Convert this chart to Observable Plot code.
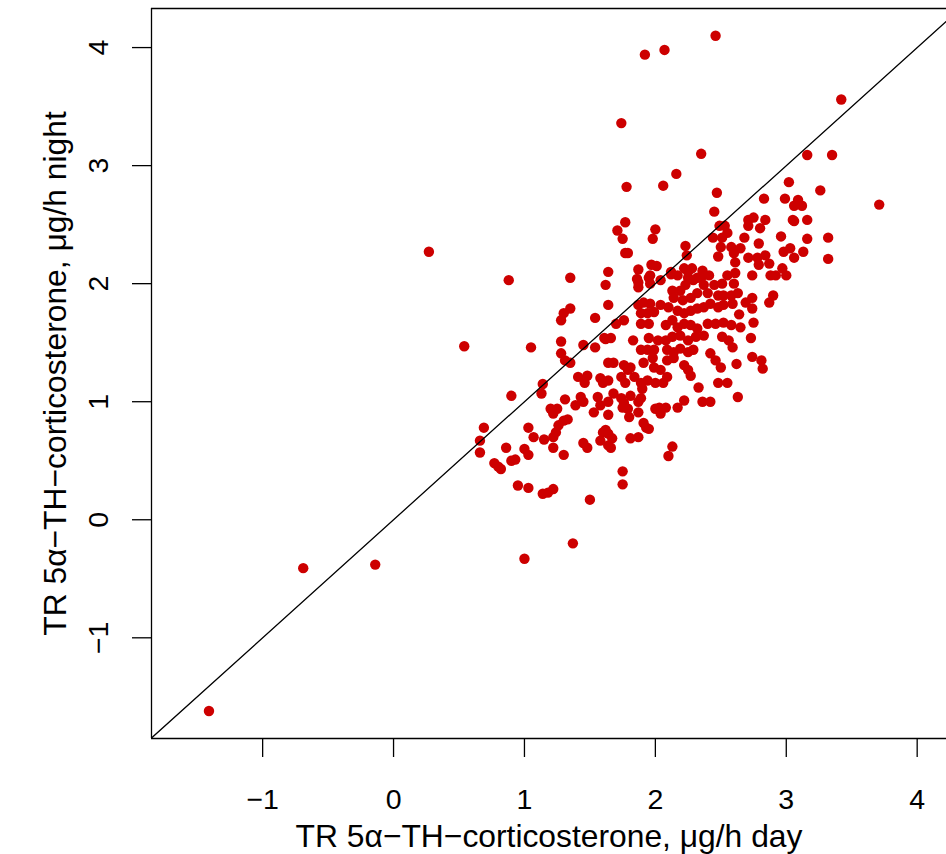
<!DOCTYPE html>
<html><head><meta charset="utf-8">
<script src="https://cdn.jsdelivr.net/npm/d3@7"></script>
<script src="https://cdn.jsdelivr.net/npm/@observablehq/plot@0.6"></script>
<style>body{margin:0;background:#fff} svg{display:block}</style>
</head><body><div id="chart"></div>
<script>
// TR 5α-TH-corticosterone, µg/h — day (x) vs night (y)
const dayValues = [
-1.41,-0.69,-0.14,0.27,0.54,0.88,1.00,1.37,1.50,1.92,2.07,2.46,1.74,3.42,3.71,2.35,3.16,3.35,2.16,1.78,
2.06,3.02,3.26,2.47,2.45,2.83,2.99,3.09,3.06,3.12,1.77,1.71,2.00,1.98,1.75,1.77,1.79,2.23,2.24,2.44,
2.71,2.75,2.71,2.84,3.05,3.06,3.16,2.80,2.49,2.53,2.96,2.68,3.16,3.32,2.51,2.55,2.79,2.50,2.58,2.65,
2.98,3.03,3.13,3.06,2.48,2.60,2.71,2.78,2.84,2.87,3.32,2.61,2.79,2.97,2.36,2.41,2.55,2.61,2.74,2.88,
2.92,3.00,1.64,1.35,1.87,1.97,2.01,2.12,1.96,2.22,2.28,1.86,2.25,2.32,1.62,1.35,1.30,1.28,1.54,1.64,
1.05,1.28,1.28,1.31,1.35,1.45,1.54,1.62,1.64,1.41,1.48,1.46,1.58,1.60,1.64,1.14,1.13,0.90,1.31,1.43,
1.45,1.39,1.56,1.58,1.20,1.25,1.64,1.87,1.87,1.95,1.96,2.04,2.12,2.17,2.25,2.29,2.23,2.19,2.35,2.37,
2.45,2.51,2.60,2.13,2.14,2.21,2.27,2.32,2.40,2.48,2.52,2.58,2.63,1.87,1.91,1.96,2.04,2.10,1.89,1.94,
1.99,2.17,2.22,2.27,2.32,2.37,2.42,2.48,2.52,1.70,1.76,1.89,1.95,2.08,2.13,2.17,2.22,2.27,2.32,2.40,
2.46,2.52,2.58,1.61,1.66,1.83,1.95,2.02,2.08,2.13,2.19,2.25,2.31,2.37,2.51,2.56,2.59,1.89,1.94,1.99,
2.09,2.14,2.19,2.25,2.29,2.42,2.46,2.50,1.68,1.76,1.81,1.79,1.91,1.98,1.99,2.04,2.09,2.14,2.22,2.25,
2.27,1.74,1.77,1.84,1.89,1.90,1.94,2.00,2.06,2.09,2.33,2.48,2.55,1.68,1.74,1.76,1.81,1.89,2.03,2.08,
2.22,2.36,2.42,2.63,2.59,2.69,2.74,2.74,2.90,2.87,2.64,2.65,2.75,2.73,2.62,2.74,2.81,2.82,0.69,0.66,
0.66,0.86,0.77,0.80,0.82,0.90,0.93,1.00,1.03,1.03,1.07,1.15,1.22,1.22,1.24,1.26,1.30,1.33,1.22,1.30,
1.45,1.48,1.53,1.64,1.60,1.62,1.64,1.58,1.64,0.95,1.03,1.14,1.18,1.22,1.75,1.79,1.80,1.87,1.87,2.00,
2.04,2.17,1.67,1.66,1.81,1.87,1.91,1.93,1.95,2.13,2.10,1.75,1.75
];
const nightValues = [
-1.62,-0.41,-0.38,2.27,1.47,2.03,-0.33,-0.20,0.17,3.94,3.98,4.10,3.36,3.56,2.67,3.10,3.09,3.09,2.93,2.82,
2.83,2.86,2.79,2.77,2.61,2.72,2.72,2.71,2.66,2.66,2.52,2.45,2.46,2.38,2.38,2.26,2.26,2.32,2.24,2.39,
2.54,2.56,2.49,2.54,2.54,2.53,2.54,2.47,2.49,2.49,2.40,2.39,2.38,2.39,2.39,2.43,2.34,2.31,2.31,2.30,
2.27,2.30,2.27,2.22,2.23,2.26,2.22,2.22,2.24,2.17,2.21,2.18,2.16,2.13,2.11,2.07,2.07,2.09,2.07,2.07,
2.07,2.07,2.10,2.05,2.12,2.16,2.15,2.08,2.07,2.13,2.13,2.04,2.05,2.05,1.99,1.79,1.75,1.69,1.71,1.82,
1.46,1.51,1.41,1.35,1.33,1.48,1.46,1.53,1.33,1.21,1.22,1.16,1.20,1.16,1.18,1.15,1.07,1.05,1.02,1.04,
1.00,0.97,1.04,0.97,0.94,0.94,1.00,2.01,1.97,2.05,2.00,2.03,2.10,2.07,2.10,2.03,1.99,1.94,2.05,1.99,
1.99,2.00,2.00,1.94,1.88,1.86,1.88,1.92,1.92,1.90,1.90,1.90,1.92,1.82,1.84,1.83,1.82,1.80,1.75,1.75,
1.76,1.77,1.75,1.77,1.79,1.80,1.83,1.80,1.82,1.66,1.69,1.66,1.66,1.65,1.69,1.63,1.66,1.65,1.62,1.66,
1.66,1.67,1.65,1.54,1.54,1.52,1.54,1.52,1.52,1.55,1.56,1.52,1.55,1.56,1.55,1.52,1.46,1.44,1.44,1.44,
1.44,1.42,1.45,1.42,1.44,1.41,1.35,1.29,1.33,1.31,1.29,1.27,1.33,1.37,1.29,1.27,1.35,1.37,1.31,1.27,
1.22,1.21,1.16,1.21,1.16,1.11,1.18,1.16,1.16,1.21,1.12,1.16,1.16,1.07,1.03,0.99,1.05,1.03,0.95,0.95,
1.01,1.00,1.00,1.04,1.83,1.84,1.88,1.79,1.90,1.84,1.74,1.63,1.67,1.54,1.32,1.38,1.35,1.28,0.78,0.67,
0.57,0.61,0.48,0.45,0.43,0.50,0.51,0.60,0.55,0.78,0.70,0.68,0.61,0.70,0.74,0.80,0.84,0.85,0.90,0.55,
0.65,0.61,0.91,0.89,0.74,0.76,0.73,0.67,0.63,0.29,0.27,0.22,0.23,0.26,0.95,0.94,0.87,1.00,0.91,0.94,
0.90,0.95,0.69,0.61,0.69,0.70,0.82,0.78,0.77,0.62,0.54,0.41,0.30
];
const xTicks = [-1, 0, 1, 2, 3, 4];
const yTicks = [-1, 0, 1, 2, 3, 4];
const xTitle = "TR 5α−TH−corticosterone, μg/h day";
const yTitle = "TR 5α−TH−corticosterone, μg/h night";
const xDomain = [-1.849, 4.224];
const yDomain = [-1.853, 4.331];
const pointColor = "#CD0000";

const points = dayValues.map((d, i) => ({day: d, night: nightValues[i]}));
const identityLine = [{v: Math.min(xDomain[0], yDomain[0])}, {v: Math.max(xDomain[1], yDomain[1])}];
const tickFmt = d3.format("d");

const font = "'Liberation Sans', Arial, Helvetica, sans-serif";
const chart = Plot.plot({
  width: 946,
  height: 854,
  marginLeft: 151,
  marginRight: 0,
  marginTop: 8,
  marginBottom: 116,
  style: {fontFamily: font, background: "#fff", color: "#000"},
  x: {domain: xDomain, axis: null},
  y: {domain: yDomain, axis: null},
  marks: [
    Plot.dot(points, {x: "day", y: "night", r: 5.2, fill: pointColor, stroke: "none"}),
    Plot.line(identityLine, {x: "v", y: "v", stroke: "#000", strokeWidth: 1.3, clip: true}),
    Plot.ruleX([xDomain[0]], {stroke: "#000", strokeWidth: 1.3}),
    Plot.ruleY([yDomain[0], yDomain[1]], {stroke: "#000", strokeWidth: 1.3}),
    Plot.axisX(xTicks, {anchor: "bottom", tickSize: 19, tickPadding: 31, fontSize: 28.5, strokeWidth: 1.3, label: null, tickFormat: tickFmt}),
    Plot.axisY(yTicks, {anchor: "left", tickSize: 19, tickPadding: 25, tickRotate: -90, fontSize: 28.5, strokeWidth: 1.3, label: null, tickFormat: tickFmt}),
    Plot.text([xTitle], {text: d => d, frameAnchor: "bottom", dy: 98, fontSize: 31.8, lineAnchor: "middle", textAnchor: "middle", fill: "#000"}),
    Plot.text([yTitle], {text: d => d, frameAnchor: "left", dx: -96, rotate: -90, fontSize: 31.8, lineAnchor: "middle", textAnchor: "middle", fill: "#000"})
  ]
});
document.getElementById("chart").appendChild(chart);
</script>
</body></html>
